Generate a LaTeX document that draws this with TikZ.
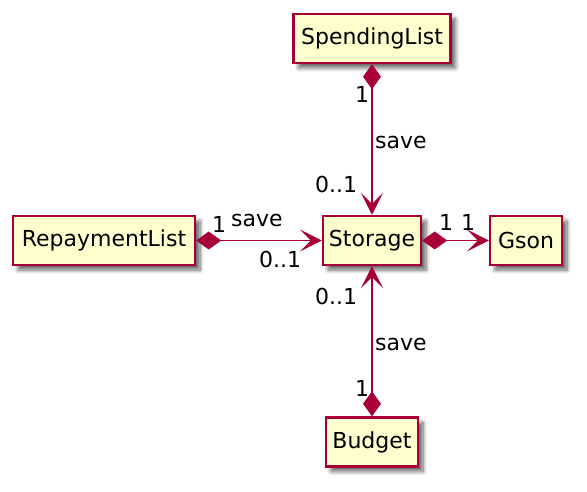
\documentclass[tikz,border=0pt]{standalone}
\usepackage{fontspec}
\setmainfont{DejaVu Sans}
\usetikzlibrary{arrows.meta,shadows.blur}
\definecolor{umlborder}{HTML}{A80036}
\definecolor{umlfill}{HTML}{FEFECE}
\tikzset{
  classbox/.style={draw=umlborder, fill=umlfill, line width=2.4pt, inner sep=0pt,
    minimum height=49pt, font=\fontsize{22}{26}\selectfont,
    blur shadow={shadow xshift=5pt, shadow yshift=-5pt, shadow blur steps=8,
      shadow blur radius=4pt, shadow opacity=60}},
  lbl/.style={inner sep=0pt, anchor=base west, font=\fontsize{22}{26}\selectfont},
  comp/.style={draw=umlborder, line width=1.8pt,
    {Diamond[length=25pt,width=18pt,fill=umlborder]}-{Stealth[length=22pt,width=22pt,inset=11pt,fill=umlborder]}}
}
\begin{document}
\begin{tikzpicture}[x=1pt,y=-1pt]
\useasboundingbox (0,0) rectangle (587,492);
\node[classbox, minimum width=157pt] (sp) at (372,38.5) {SpendingList};
\node[classbox, minimum width=98pt] (st) at (372,240.5) {Storage};
\node[classbox, minimum width=72pt] (gs) at (526,240.5) {Gson};
\node[classbox, minimum width=182pt] (rp) at (104,240.5) {RepaymentList};
\node[classbox, minimum width=92pt] (bd) at (372,442) {Budget};

\draw[comp] (sp.south) -- (st.north);
\draw[comp] (rp.east) -- (st.west);
\draw[comp] (st.east) -- (gs.west);
\draw[comp] (bd.north) -- (st.south);

\node[lbl] (l1) at (355,103) {1};
\node[lbl] (l2) at (375,149) {save};
\node[lbl] (l3) at (315,193) {0..1};
\node[lbl] (l4) at (212,233) {1};
\node[lbl] (l5) at (231,227) {save};
\node[lbl] (l6) at (259,268) {0..1};
\node[lbl] (l7) at (439,230) {1};
\node[lbl] (l8) at (461,230) {1};
\node[lbl] (l9) at (315,305) {0..1};
\node[lbl] (l10) at (375,350) {save};
\node[lbl] (l11) at (355,396) {1};
\end{tikzpicture}
\end{document}
